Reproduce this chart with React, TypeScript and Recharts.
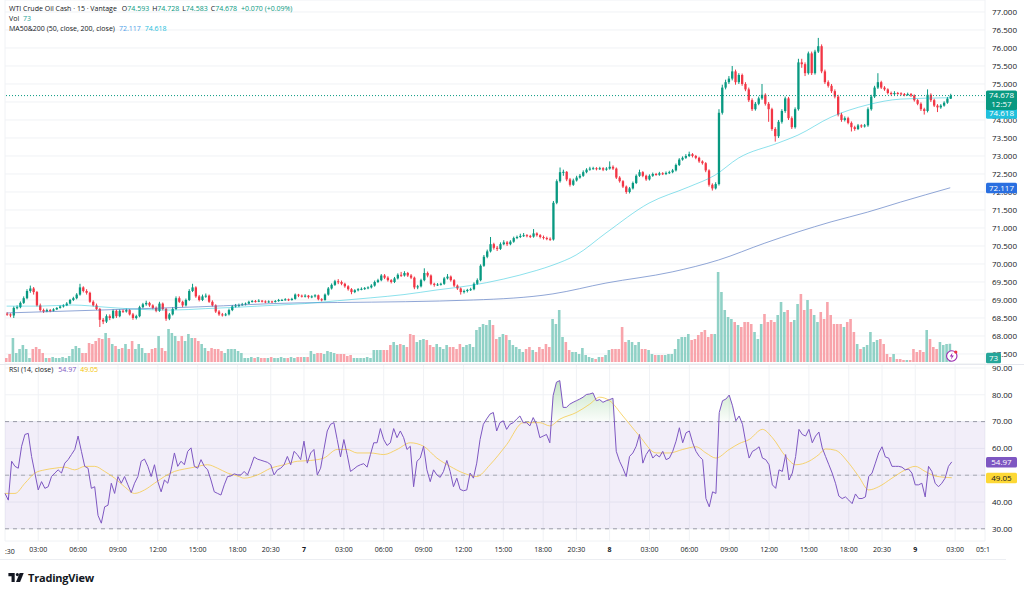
import React from "react";
import {
  ComposedChart,
  Bar,
  Line,
  Area,
  XAxis,
  YAxis,
  CartesianGrid,
  ReferenceLine,
  ReferenceArea,
  ReferenceDot,
  Cell,
} from "recharts";

type Candle = [number, number, number, number]; // open, high, low, close

// 15m bars, one array per session
const day6: Candle[] = [
  [68.62,68.66,68.56,68.60],[68.60,68.63,68.52,68.57],[68.57,68.82,68.50,68.78],[68.78,68.85,68.74,68.80],[68.80,68.96,68.77,68.92],
  [68.92,69.10,68.89,69.05],[69.05,69.30,69.02,69.25],[69.25,69.40,69.20,69.32],[69.32,69.36,69.15,69.22],[69.22,69.25,68.82,68.85],
  [68.85,68.90,68.68,68.72],[68.72,68.76,68.64,68.68],[68.68,68.76,68.66,68.72],[68.72,68.75,68.66,68.70],[68.70,68.77,68.68,68.74],
  [68.74,68.80,68.72,68.78],[68.78,68.85,68.76,68.82],[68.82,68.88,68.79,68.85],[68.85,68.94,68.83,68.90],[68.90,69.03,68.88,69.00],
  [69.00,69.09,68.97,69.05],[69.05,69.19,69.02,69.15],[69.15,69.45,69.12,69.35],[69.35,69.38,69.21,69.25],[69.25,69.30,69.15,69.20],
  [69.20,69.23,68.92,68.95],[68.95,68.99,68.82,68.85],[68.85,68.90,68.72,68.75],[68.75,68.78,68.25,68.45],[68.45,68.50,68.33,68.40],
  [68.40,68.60,68.36,68.55],[68.55,68.60,68.44,68.50],[68.50,68.74,68.47,68.70],[68.70,68.73,68.50,68.55],[68.55,68.74,68.52,68.70],
  [68.70,68.74,68.64,68.68],[68.68,68.76,68.65,68.72],[68.72,68.75,68.57,68.60],[68.60,68.64,68.45,68.50],[68.50,68.59,68.46,68.55],
  [68.55,68.84,68.52,68.80],[68.80,68.92,68.77,68.88],[68.88,68.98,68.84,68.92],[68.92,68.95,68.81,68.85],[68.85,68.88,68.74,68.78],
  [68.78,68.82,68.66,68.70],[68.70,68.95,68.67,68.90],[68.90,68.93,68.71,68.75],[68.75,68.78,68.42,68.48],[68.48,68.64,68.44,68.60],
  [68.60,68.80,68.57,68.75],[68.75,69.10,68.72,69.05],[69.05,69.10,68.92,68.95],[68.95,68.98,68.80,68.85],[68.85,69.04,68.82,69.00],
  [69.00,69.30,68.97,69.25],[69.25,69.45,69.22,69.35],[69.35,69.38,69.06,69.10],[69.10,69.14,68.96,69.00],[69.00,69.15,68.97,69.10],
  [69.10,69.18,69.06,69.12],[69.12,69.15,68.92,68.95],[68.95,68.99,68.82,68.85],[68.85,68.88,68.64,68.68],[68.68,68.72,68.56,68.60],
  [68.60,68.64,68.54,68.58],[68.58,68.64,68.55,68.60],[68.60,68.76,68.57,68.72],[68.72,68.86,68.69,68.82],[68.82,68.89,68.79,68.85],
  [68.85,68.90,68.80,68.86],[68.86,68.92,68.84,68.88],[68.88,68.93,68.85,68.90],[68.90,68.98,68.88,68.95],[68.95,69.00,68.93,68.97],
  [68.97,69.00,68.93,68.96],[68.96,69.02,68.94,68.98],[68.98,69.00,68.93,68.96],[68.96,68.99,68.91,68.94],[68.94,68.99,68.92,68.96],
  [68.96,68.98,68.92,68.95],[68.95,69.00,68.93,68.97],[68.97,69.03,68.95,69.00],[69.00,69.03,68.97,69.00],[69.00,69.05,68.98,69.02],
  [69.02,69.04,68.97,69.00],[69.00,69.06,68.98,69.03],[69.03,69.18,69.01,69.15],[69.15,69.17,69.08,69.12],[69.12,69.15,69.07,69.10],
];

const day7: Candle[] = [
  [69.10,69.16,69.07,69.12],[69.12,69.14,69.04,69.08],[69.08,69.13,69.05,69.10],[69.10,69.16,69.07,69.13],[69.13,69.15,68.99,69.02],
  [69.02,69.05,68.96,69.00],[69.00,69.18,68.98,69.15],[69.15,69.36,69.12,69.32],[69.32,69.46,69.29,69.42],[69.42,69.56,69.39,69.52],
  [69.52,69.58,69.44,69.50],[69.50,69.54,69.41,69.45],[69.45,69.48,69.34,69.38],[69.38,69.41,69.26,69.30],[69.30,69.33,69.16,69.22],
  [69.22,69.30,69.19,69.27],[69.27,69.33,69.24,69.30],[69.30,69.35,69.27,69.31],[69.31,69.36,69.28,69.33],[69.33,69.38,69.30,69.35],
  [69.35,69.44,69.32,69.40],[69.40,69.54,69.37,69.50],[69.50,69.59,69.47,69.55],[69.55,69.72,69.52,69.68],[69.68,69.72,69.58,69.62],
  [69.62,69.66,69.51,69.55],[69.55,69.58,69.46,69.50],[69.50,69.64,69.47,69.60],[69.60,69.74,69.57,69.70],[69.70,69.78,69.64,69.68],
  [69.68,69.80,69.65,69.75],[69.75,69.78,69.64,69.68],[69.68,69.72,69.58,69.62],[69.62,69.65,69.30,69.35],[69.35,69.42,69.30,69.38],
  [69.38,69.59,69.35,69.55],[69.55,69.88,69.52,69.75],[69.75,69.79,69.63,69.68],[69.68,69.71,69.41,69.45],[69.45,69.48,69.37,69.42],
  [69.42,69.47,69.39,69.43],[69.43,69.48,69.40,69.45],[69.45,69.64,69.42,69.60],[69.60,69.72,69.57,69.65],[69.65,69.68,69.51,69.55],
  [69.55,69.58,69.36,69.40],[69.40,69.43,69.28,69.32],[69.32,69.35,69.15,69.22],[69.22,69.29,69.18,69.25],[69.25,69.31,69.21,69.28],
  [69.28,69.34,69.25,69.30],[69.30,69.49,69.27,69.45],[69.45,69.60,69.42,69.55],[69.55,69.99,69.52,69.95],[69.95,70.25,69.92,70.20],
  [70.20,70.40,70.16,70.35],[70.35,70.75,70.32,70.55],[70.55,70.59,70.40,70.45],[70.45,70.50,70.36,70.42],[70.42,70.60,70.39,70.55],
  [70.55,70.66,70.52,70.60],[70.60,70.64,70.50,70.55],[70.55,70.66,70.52,70.62],[70.62,70.76,70.59,70.72],[70.72,70.79,70.69,70.75],
  [70.75,70.84,70.72,70.78],[70.78,70.86,70.75,70.80],[70.80,70.83,70.74,70.78],[70.78,70.81,70.72,70.76],[70.76,70.97,70.73,70.85],
  [70.85,70.88,70.76,70.80],[70.80,70.83,70.71,70.75],[70.75,70.79,70.68,70.72],[70.72,70.76,70.66,70.70],[70.70,70.74,70.64,70.68],
  [70.68,71.75,70.65,71.70],[71.70,72.35,71.66,72.30],[72.30,72.68,72.26,72.55],[72.55,72.62,72.45,72.56],[72.56,72.58,72.30,72.35],
  [72.35,72.39,72.15,72.20],[72.20,72.37,72.17,72.32],[72.32,72.45,72.29,72.40],[72.40,72.50,72.37,72.45],[72.45,72.60,72.42,72.55],
  [72.55,72.66,72.52,72.62],[72.62,72.70,72.59,72.65],[72.65,72.70,72.62,72.66],[72.66,72.69,72.60,72.64],[72.64,72.70,72.61,72.66],
  [72.66,72.69,72.58,72.62],[72.62,72.69,72.59,72.65],
];

const day8: Candle[] = [
  [72.65,72.85,72.62,72.70],[72.70,72.74,72.61,72.65],[72.65,72.68,72.36,72.40],[72.40,72.44,72.26,72.30],[72.30,72.33,72.11,72.15],
  [72.15,72.18,71.95,72.00],[72.00,72.14,71.96,72.10],[72.10,72.29,72.07,72.25],
  [72.25,72.49,72.22,72.45],[72.45,72.62,72.42,72.55],[72.55,72.58,72.41,72.45],[72.45,72.48,72.31,72.35],[72.35,72.49,72.32,72.45],
  [72.45,72.54,72.42,72.50],[72.50,72.53,72.45,72.48],[72.48,72.56,72.45,72.52],[72.52,72.55,72.47,72.50],[72.50,72.57,72.47,72.53],
  [72.53,72.59,72.50,72.55],[72.55,72.64,72.52,72.60],[72.60,72.79,72.57,72.75],[72.75,72.94,72.72,72.90],[72.90,72.99,72.87,72.95],
  [72.95,73.05,72.92,73.00],[73.00,73.12,72.97,73.05],[73.05,73.08,72.96,73.00],[73.00,73.03,72.91,72.95],[72.95,72.98,72.81,72.85],
  [72.85,72.88,72.76,72.80],[72.80,72.83,72.55,72.60],[72.60,72.63,72.15,72.20],[72.20,72.24,72.04,72.10],[72.10,72.27,72.07,72.22],
  [72.22,74.30,72.18,74.20],[74.20,74.98,74.15,74.90],[74.90,75.12,74.85,75.05],[75.05,75.22,75.00,75.15],[75.15,75.50,75.10,75.35],
  [75.35,75.40,74.98,75.05],[75.05,75.30,75.00,75.25],[75.25,75.29,74.95,75.00],[75.00,75.05,74.80,74.85],[74.85,74.90,74.50,74.55],
  [74.55,74.60,74.25,74.30],[74.30,74.50,74.26,74.45],[74.45,74.65,74.41,74.60],[74.60,75.00,74.56,74.70],[74.70,74.74,74.40,74.45],
  [74.45,74.50,73.95,74.30],[74.30,74.34,73.70,73.75],[73.75,73.80,73.40,73.55],[73.55,74.00,73.50,73.95],[73.95,74.30,73.90,74.25],
  [74.25,74.65,74.20,74.60],[74.60,74.64,74.00,74.05],[74.05,74.10,73.75,73.80],[73.80,74.35,73.76,74.30],[74.30,75.70,74.26,75.60],
  [75.60,75.70,75.45,75.55],[75.55,75.60,75.22,75.30],[75.30,75.90,75.26,75.85],[75.85,75.90,75.25,75.30],[75.30,75.95,75.26,75.90],
  [75.90,76.28,75.86,76.05],[76.05,76.10,75.30,75.35],[75.35,75.40,75.00,75.05],[75.05,75.10,74.90,74.95],[74.95,75.00,74.75,74.80],
  [74.80,74.85,74.60,74.65],[74.65,74.70,74.10,74.15],[74.15,74.20,73.95,74.00],[74.00,74.10,73.96,74.05],[74.05,74.09,73.88,73.92],
  [73.92,73.96,73.68,73.80],[73.80,73.84,73.70,73.75],[73.75,73.89,73.72,73.85],[73.85,73.88,73.78,73.82],[73.82,73.89,73.79,73.85],
  [73.85,74.35,73.81,74.30],[74.30,74.70,74.26,74.65],[74.65,74.95,74.61,74.90],[74.90,75.30,74.86,75.05],[75.05,75.09,74.86,74.90],
  [74.90,74.94,74.81,74.85],[74.85,74.88,74.71,74.75],[74.75,74.79,74.68,74.72],[74.72,74.80,74.69,74.75],[74.75,74.78,74.70,74.74],
  [74.74,74.77,74.68,74.72],[74.72,74.75,74.66,74.70],[74.70,74.76,74.67,74.72],[74.72,74.75,74.64,74.68],
];

const day9: Candle[] = [
  [74.68,74.71,74.51,74.55],[74.55,74.58,74.41,74.45],[74.45,74.49,74.25,74.30],[74.30,74.34,74.15,74.25],[74.25,74.85,74.21,74.70],
  [74.70,74.74,74.50,74.55],[74.55,74.59,74.36,74.40],[74.40,74.44,74.22,74.35],[74.35,74.44,74.31,74.40],[74.40,74.52,74.37,74.48],
  [74.48,74.64,74.45,74.593],[74.593,74.728,74.583,74.678],
];

const volumes = [
  16,32,96,36,52,68,52,16,52,60, 52,36,16,16,20,16,16,20,16,24,
  52,64,56,36,36,76,72,84,96,92, 116,96,72,64,52,56,72,52,84,52,
  72,56,36,36,52,56,104,56,44,132, 116,104,84,104,84,112,96,96,84,72,
  56,44,56,52,52,44,36,52,52,52, 44,36,16,16,20,16,20,16,16,16,
  20,16,16,20,16,16,20,16,20,20, 20,20,44,32,36,36,32,44,40,36,
  32,32,32,24,28,16,16,16,16,20, 16,48,48,48,48,48,68,80,68,72,
  68,60,112,108,80,88,92,88,68,60, 72,60,52,68,60,60,52,72,60,68,
  72,60,128,140,152,148,168,148,92,100, 112,108,88,68,60,52,40,52,60,48,
  40,60,52,72,60,172,152,208,100,80, 48,40,40,32,56,28,20,16,12,20,
  20,28,48,52,52,52,140,80,88,80, 68,80,52,52,48,32,28,28,28,28,
  32,32,52,92,100,100,112,88,92,108, 120,128,100,112,112,360,280,208,180,172,
  160,148,140,160,160,152,120,92,152,192, 160,168,160,188,240,200,208,160,168,232,
  272,208,248,212,188,160,200,172,240,188, 152,152,152,140,160,172,120,72,52,60,
  68,120,80,88,92,72,32,20,32,12, 12,8,8,8,52,40,48,40,128,92,
  60,52,80,68,72,73,
];

const rsi14 = [
  43.2,40.7,55.2,53.3,52.6,60.8,65.2,65.6,57.0,50.8, 44.5,47.6,45.1,45.7,49.5,50.8,52.0,50.8,54.5,55.8,
  57.7,59.6,64.6,58.9,53.3,52.6,45.1,45.7,35.0,32.1, 38.2,38.8,47.0,43.2,49.5,47.0,49.5,46.4,43.5,47.0,
  49.5,55.2,56.0,53.3,49.5,53.9,47.6,43.8,48.2,47.0, 52.0,58.3,53.3,55.2,53.9,58.9,60.2,53.3,52.6,55.8,
  53.3,52.0,48.2,43.8,43.2,42.6,46.4,49.5,49.7,50.5, 50.1,50.1,51.4,50.1,53.3,56.8,56.0,55.6,55.2,54.8,
  53.9,50.1,52.0,52.6,53.9,57.0,53.9,58.9,57.7,55.8, 62.7,54.5,58.3,59.6,50.1,52.6,59.6,66.5,69.0,69.6,
  63.3,56.8,63.3,57.7,51.4,52.3,53.3,53.9,54.3,53.0, 57.7,62.1,62.1,67.4,63.3,61.1,62.1,67.4,64.0,66.5,
  64.0,59.6,60.8,45.7,55.2,56.4,60.8,52.0,47.6,52.0, 50.1,49.2,51.4,55.5,51.4,45.7,48.9,44.7,44.2,44.5,
  50.8,48.9,54.5,63.3,69.0,71.0,72.8,73.4,66.5,69.6, 70.3,67.1,69.0,69.6,70.9,72.1,69.6,69.6,68.4,71.5,
  69.0,64.0,64.6,65.2,62.1,79.7,84.7,85.3,75.3,75.3, 76.5,77.2,77.8,78.4,79.1,80.1,80.3,80.7,77.8,78.2,
  77.2,77.8,78.2,78.7,58.9,55.2,52.6,49.5,57.0,58.3, 60.8,65.2,54.5,57.7,59.6,56.4,57.7,56.8,58.9,55.8,
  56.4,58.9,62.7,67.7,62.1,65.8,66.5,62.1,58.9,57.0, 55.8,41.3,38.2,43.8,43.2,73.4,77.8,78.4,79.9,75.9,
  70.3,72.1,69.0,62.1,56.4,58.9,59.6,60.6,56.4,55.8, 53.9,46.4,45.1,52.0,51.4,57.7,48.2,50.8,57.0,67.1,
  65.2,64.6,67.1,62.1,64.6,66.1,60.2,57.0,53.9,50.8, 47.0,42.2,41.3,41.9,40.7,39.4,43.0,41.3,41.3,41.9,
  49.5,50.8,54.5,58.3,60.6,56.8,56.4,53.3,53.3,53.3, 53.0,52.0,52.3,50.8,46.4,46.4,47.0,41.9,53.3,51.4,
  47.0,45.7,47.0,48.9,53.3,54.97,
];

// averages sampled along the run: [bar index, value]
const ma50Pts: [number, number][] = [
  [0,68.83],[10,68.83],[20,68.86],[30,68.80],[40,68.74],[50,68.72],[60,68.76],[70,68.80],[80,68.85],[90,68.90],
  [100,68.98],[110,69.06],[120,69.15],[130,69.28],[140,69.40],[150,69.58],[160,69.82],[165,69.97],[172,70.25],
  [181,70.86],[194,71.69],[206,72.14],[214,72.47],[221,72.94],[233,73.36],[239,73.58],[249,74.08],[260,74.42],
  [270,74.58],[285,74.618],
];
const ma200Pts: [number, number][] = [
  [0,68.64],[28,68.72],[58,68.81],[88,68.92],[100,68.93],[141,69.0],[165,69.17],[181,69.47],[201,69.78],
  [215,70.11],[229,70.58],[239,70.89],[249,71.17],[260,71.44],[270,71.72],[285,72.117],
];
const rsiMaPts: [number, number][] = [
  [0,43.2],[3,43.2],[6,47.0],[9,50.8],[12,52.0],[15,52.6],[18,53.0],[21,52.0],[24,53.3],[27,53.3],[30,51.4],
  [33,48.9],[36,45.7],[39,43.2],[42,44.5],[45,47.0],[48,49.5],[51,51.4],[54,52.3],[57,53.0],[61,53.9],[64,52.6],
  [67,50.8],[70,49.7],[72,48.9],[76,50.1],[80,52.6],[84,53.9],[88,55.2],[92,55.5],[96,56.4],[100,59.6],[103,59.6],
  [106,58.3],[110,58.3],[114,57.7],[118,59.6],[122,62.1],[126,60.8],[130,56.4],[134,53.3],[138,50.8],[142,49.5],
  [146,53.9],[151,61.4],[156,69.6],[161,69.6],[164,68.4],[167,70.9],[172,73.4],[176,76.5],[179,79.1],[182,77.8],
  [186,72.1],[191,64.6],[196,58.3],[200,58.3],[204,59.6],[208,60.6],[211,58.3],[214,56.4],[218,59.6],[221,61.8],
  [224,63.3],[228,67.1],[231,64.0],[235,57.0],[238,53.9],[242,55.2],[245,57.7],[247,59.8],[250,59.3],[254,54.5],
  [257,49.5],[260,44.5],[263,45.7],[267,48.9],[271,52.0],[274,53.3],[277,51.4],[280,49.7],[285,49.05],
];

const timeTicks = [10, 22, 34, 46, 58, 70, 80, 90, 102, 114, 126, 138, 150, 162, 172, 182, 194, 206, 218, 230, 242, 254, 264, 274, 286, 295];
const timeLabels = ["03:00","06:00","09:00","12:00","15:00","18:00","20:30","7","03:00","06:00","09:00","12:00","15:00","18:00","20:30","8","03:00","06:00","09:00","12:00","15:00","18:00","20:30","9","03:00","05:15"];
const priceTicks = [67.5, 68, 68.5, 69, 69.5, 70, 70.5, 71, 71.5, 72, 72.5, 73, 73.5, 74, 74.5, 75, 75.5, 76, 76.5, 77];
const rsiTicks = [30, 40, 50, 60, 70, 80, 90];

const SLOTS = 296; // bars plus empty space on the right
const PRICE_DOMAIN: [number, number] = [67.222, 77.333];
const VOL_DOMAIN: [number, number] = [-8, 1448];
const RSI_DOMAIN: [number, number] = [25.45, 91.49];

const UP = "#089981";
const DOWN = "#f23645";
const UP_VOL = "#90d1c6";
const DOWN_VOL = "#f8a4ab";
const TEXT = "#131722";
const GRID = "#f0f2f5";
const FONT = '"Open Sans", sans-serif';

const candles = [...day6, ...day7, ...day8, ...day9];

const rows = Array.from({ length: SLOTS }, (_, i) => {
  const row: any = { i };
  const k = candles[i];
  if (k) {
    row.o = k[0];
    row.h = k[1];
    row.l = k[2];
    row.c = k[3];
    row.v = volumes[i];
    row.rsi = rsi14[i];
  }
  return row;
});
ma50Pts.forEach(([i, v]) => (rows[i].ma50 = v));
ma200Pts.forEach(([i, v]) => (rows[i].ma200 = v));
rsiMaPts.forEach(([i, v]) => (rows[i].rsiMa = v));

const candleRange = (d: any) => (d.o == null ? null : [d.l, d.h]);
const overbought = (d: any) => (d.rsi == null ? null : [70, Math.max(70, d.rsi)]);

function CandleShape(props: any) {
  const { x, y, width, height, payload } = props;
  if (!payload || payload.o == null) return <g />;
  const { o, h, l, c } = payload;
  const top = Math.min(y, y + height);
  const span = Math.abs(height);
  const k = h > l ? span / (h - l) : 0;
  const bodyTop = top + (h - Math.max(o, c)) * k;
  const bodyH = Math.max(1, Math.abs(o - c) * k);
  const color = c >= o ? UP : DOWN;
  const cx = x + width / 2;
  return (
    <g>
      <line x1={cx} x2={cx} y1={top} y2={top + span} stroke={color} strokeWidth={1} />
      <rect x={x} y={bodyTop} width={width} height={bodyH} fill={color} />
    </g>
  );
}

// value tag drawn on the price scale, next to the plot edge
const tag =
  (lines: string[], bg: string, fg: string, dy = 0, w = 31) =>
  (p: any) => {
    const vb = p.viewBox;
    if (!vb) return null;
    const left = vb.x + vb.width + 1;
    const cy = vb.y + dy;
    const h = 9 * lines.length + 1.5;
    return (
      <g>
        <rect x={left} y={cy - 5} width={w} height={h} rx={1.5} fill={bg} />
        {lines.map((t, k) => (
          <text key={k} x={left + w / 2} y={cy + k * 9} dy="0.35em" textAnchor="middle"
            fontSize={8} fontFamily={FONT} fill={fg}>
            {t}
          </text>
        ))}
      </g>
    );
  };

const TimeTick = (p: any) => {
  const label = timeLabels[timeTicks.indexOf(p.payload.value)] ?? "";
  const isDay = /^\d$/.test(label);
  return (
    <text x={p.x} y={p.y} dy="0.71em" textAnchor="middle" fontSize={7}
      fontWeight={isDay ? 700 : 400} fontFamily={FONT} fill={TEXT}>
      {label}
    </text>
  );
};

const Flash = (p: any) => (
  <g>
    <circle cx={p.cx} cy={p.cy} r={5.2} fill="#fff" stroke="#9c27b0" strokeWidth={1.1} />
    <path d={`M${p.cx + 0.8} ${p.cy - 3.4} L${p.cx - 2} ${p.cy + 0.6} L${p.cx} ${p.cy + 0.6} L${p.cx - 0.8} ${p.cy + 3.4} L${p.cx + 2} ${p.cy - 0.6} L${p.cx} ${p.cy - 0.6} Z`} fill="#9c27b0" />
    <circle cx={p.cx + 4} cy={p.cy - 4} r={1.6} fill="#f23645" />
  </g>
);

const yTick = { fontSize: 8, fill: TEXT, fontFamily: FONT };
const abs = (top: number): React.CSSProperties => ({ position: "absolute", left: 0, top });

export default function App() {
  return (
    <div style={{ position: "absolute", left: 0, top: 0, width: 1024, height: 593, background: "#fff", fontFamily: FONT, color: TEXT, overflow: "hidden" }}>
      {/* price pane with volume overlay */}
      <div style={abs(0)}>
        <ComposedChart width={1024} height={364} data={rows} margin={{ top: 0, right: 0, bottom: 0, left: 5 }}>
          <CartesianGrid stroke={GRID} />
          <XAxis dataKey="i" type="category" ticks={timeTicks} interval={0} height={0} tick={false} axisLine={false} tickLine={false} />
          <XAxis xAxisId="v" dataKey="i" type="category" hide />
          <YAxis orientation="right" width={39} domain={PRICE_DOMAIN} allowDataOverflow ticks={priceTicks} interval={0}
            tickFormatter={(v: number) => v.toFixed(3)} tick={yTick} axisLine={false} tickLine={false} tickSize={0} tickMargin={7} />
          <YAxis yAxisId="vol" hide domain={VOL_DOMAIN} allowDataOverflow />
          <Bar xAxisId="v" yAxisId="vol" dataKey="v" barSize={2.6} isAnimationActive={false}>
            {rows.map((r) => (
              <Cell key={r.i} fill={r.c >= r.o ? UP_VOL : DOWN_VOL} />
            ))}
          </Bar>
          <Line dataKey="ma200" type="monotone" stroke="#5576c0" strokeOpacity={0.65} strokeWidth={1} dot={false} connectNulls isAnimationActive={false} />
          <Line dataKey="ma50" type="monotone" stroke="#00bcd4" strokeOpacity={0.45} strokeWidth={1} dot={false} connectNulls isAnimationActive={false} />
          <Bar dataKey={candleRange} barSize={2.3} shape={CandleShape} isAnimationActive={false} />
          <ReferenceLine y={74.678} stroke={UP} strokeDasharray="1 2" strokeWidth={1} />
        </ComposedChart>
      </div>

      {/* RSI pane */}
      <div style={abs(354)}>
        <ComposedChart width={1024} height={206} data={rows} margin={{ top: 10, right: 0, bottom: 0, left: 5 }}>
          <defs>
            <linearGradient id="obFill" x1="0" y1="0" x2="0" y2="1">
              <stop offset="0%" stopColor="#4caf50" stopOpacity={0.55} />
              <stop offset="100%" stopColor="#4caf50" stopOpacity={0.04} />
            </linearGradient>
          </defs>
          <ReferenceArea y1={30} y2={70} fill="#7e57c2" fillOpacity={0.1} stroke="none" />
          <CartesianGrid stroke={GRID} />
          <XAxis dataKey="i" type="category" ticks={timeTicks} interval={0} height={19} tick={TimeTick}
            axisLine={false} tickLine={false} tickSize={0} tickMargin={6} />
          <YAxis orientation="right" width={39} domain={RSI_DOMAIN} allowDataOverflow ticks={rsiTicks} interval={0}
            tickFormatter={(v: number) => v.toFixed(2)} tick={yTick} axisLine={false} tickLine={false} tickSize={0} tickMargin={7} />
          <ReferenceLine y={70} stroke="#787b86" strokeOpacity={0.7} strokeDasharray="4 4" />
          <ReferenceLine y={50} stroke="#787b86" strokeOpacity={0.6} strokeDasharray="4 4" />
          <ReferenceLine y={30} stroke="#787b86" strokeOpacity={0.7} strokeDasharray="4 4" />
          <Area dataKey={overbought} type="linear" fill="url(#obFill)" stroke="none" isAnimationActive={false} />
          <Line dataKey="rsiMa" type="monotone" stroke="#f5c842" strokeOpacity={0.75} strokeWidth={1} dot={false} connectNulls isAnimationActive={false} />
          <Line dataKey="rsi" type="linear" stroke="#7e57c2" strokeWidth={1} dot={false} isAnimationActive={false} />
        </ComposedChart>
      </div>

      {/* price-scale tags, layered above the scale labels */}
      <div style={abs(0)}>
        <ComposedChart width={1024} height={364} data={rows} margin={{ top: 0, right: 0, bottom: 0, left: 5 }}>
          <XAxis dataKey="i" type="category" height={0} tick={false} axisLine={false} tickLine={false} />
          <YAxis orientation="right" width={39} domain={PRICE_DOMAIN} allowDataOverflow tick={false} axisLine={false} tickLine={false} />
          <YAxis yAxisId="vol" hide domain={VOL_DOMAIN} allowDataOverflow />
          <ReferenceLine y={74.618} stroke="none" label={tag(["74.618"], "#1fc0dc", "#fff", 15.5)} />
          <ReferenceLine y={74.678} stroke="none" label={tag(["74.678", "12:57"], UP, "#fff")} />
          <ReferenceLine y={72.117} stroke="none" label={tag(["72.117"], "#2a6fe0", "#fff")} />
          <ReferenceLine yAxisId="vol" y={73} stroke="none" label={tag(["73"], "#26a69a", "#fff", 14, 15)} />
          <ReferenceDot yAxisId="vol" x={285} y={24} shape={Flash} />
        </ComposedChart>
      </div>
      <div style={abs(354)}>
        <ComposedChart width={1024} height={206} data={rows} margin={{ top: 10, right: 0, bottom: 0, left: 5 }}>
          <XAxis dataKey="i" type="category" height={19} tick={false} axisLine={false} tickLine={false} />
          <YAxis orientation="right" width={39} domain={RSI_DOMAIN} allowDataOverflow tick={false} axisLine={false} tickLine={false} />
          <ReferenceLine y={54.97} stroke="none" label={tag(["54.97"], "#7e57c2", "#fff")} />
          <ReferenceLine y={49.05} stroke="none" label={tag(["49.05"], "#fdd835", TEXT)} />
        </ComposedChart>
      </div>

      {/* pane divider, time-axis border and clipped edge labels */}
      <div style={{ position: "absolute", left: 0, top: 364, width: 1024, height: 1, background: "#e6e8ee" }} />
      <div style={{ position: "absolute", left: 0, top: 559, width: 1006, height: 1, background: "#eceef2" }} />
      <div style={{ position: "absolute", left: 990, top: 544, width: 34, height: 14, background: "#fff" }} />
      <div style={{ position: "absolute", left: 5, top: 548, fontSize: 7, lineHeight: "8px" }}>:30</div>

      {/* legend rows */}
      <div style={{ position: "absolute", left: 9, top: 4, fontSize: 7, lineHeight: "10px", whiteSpace: "nowrap" }}>
        <div>
          <span>WTI Crude Oil Cash · 15 · Vantage</span>
          <span style={{ marginLeft: 5 }}>O<span style={{ color: UP }}>74.593</span></span>
          <span style={{ marginLeft: 3 }}>H<span style={{ color: UP }}>74.728</span></span>
          <span style={{ marginLeft: 3 }}>L<span style={{ color: UP }}>74.583</span></span>
          <span style={{ marginLeft: 3 }}>C<span style={{ color: UP }}>74.678</span></span>
          <span style={{ marginLeft: 4, color: UP }}>+0.070 (+0.09%)</span>
        </div>
        <div>
          Vol <span style={{ color: "#26a69a", marginLeft: 2 }}>73</span>
        </div>
        <div>
          MA50&amp;200 (50, close, 200, close)
          <span style={{ color: "#4f9fe8", marginLeft: 4 }}>72.117</span>
          <span style={{ color: "#1fc0dc", marginLeft: 4 }}>74.618</span>
        </div>
      </div>
      <div style={{ position: "absolute", left: 9, top: 365, fontSize: 7, lineHeight: "10px", whiteSpace: "nowrap" }}>
        RSI (14, close)
        <span style={{ color: "#7e57c2", marginLeft: 5 }}>54.97</span>
        <span style={{ color: "#f5c400", marginLeft: 4 }}>49.05</span>
      </div>

      {/* brand mark */}
      <div style={{ position: "absolute", left: 8, top: 570, display: "flex", alignItems: "center", gap: 3 }}>
        <svg width={17} height={9} viewBox="0 0 36 20">
          <path d="M0 0h14v20H7V7H0z" fill={TEXT} />
          <circle cx={20} cy={3.5} r={3.5} fill={TEXT} />
          <path d="M25 0h9l-8 20h-9z" fill={TEXT} />
        </svg>
        <span style={{ fontSize: 11, fontWeight: 700, letterSpacing: -0.2 }}>TradingView</span>
      </div>
    </div>
  );
}
